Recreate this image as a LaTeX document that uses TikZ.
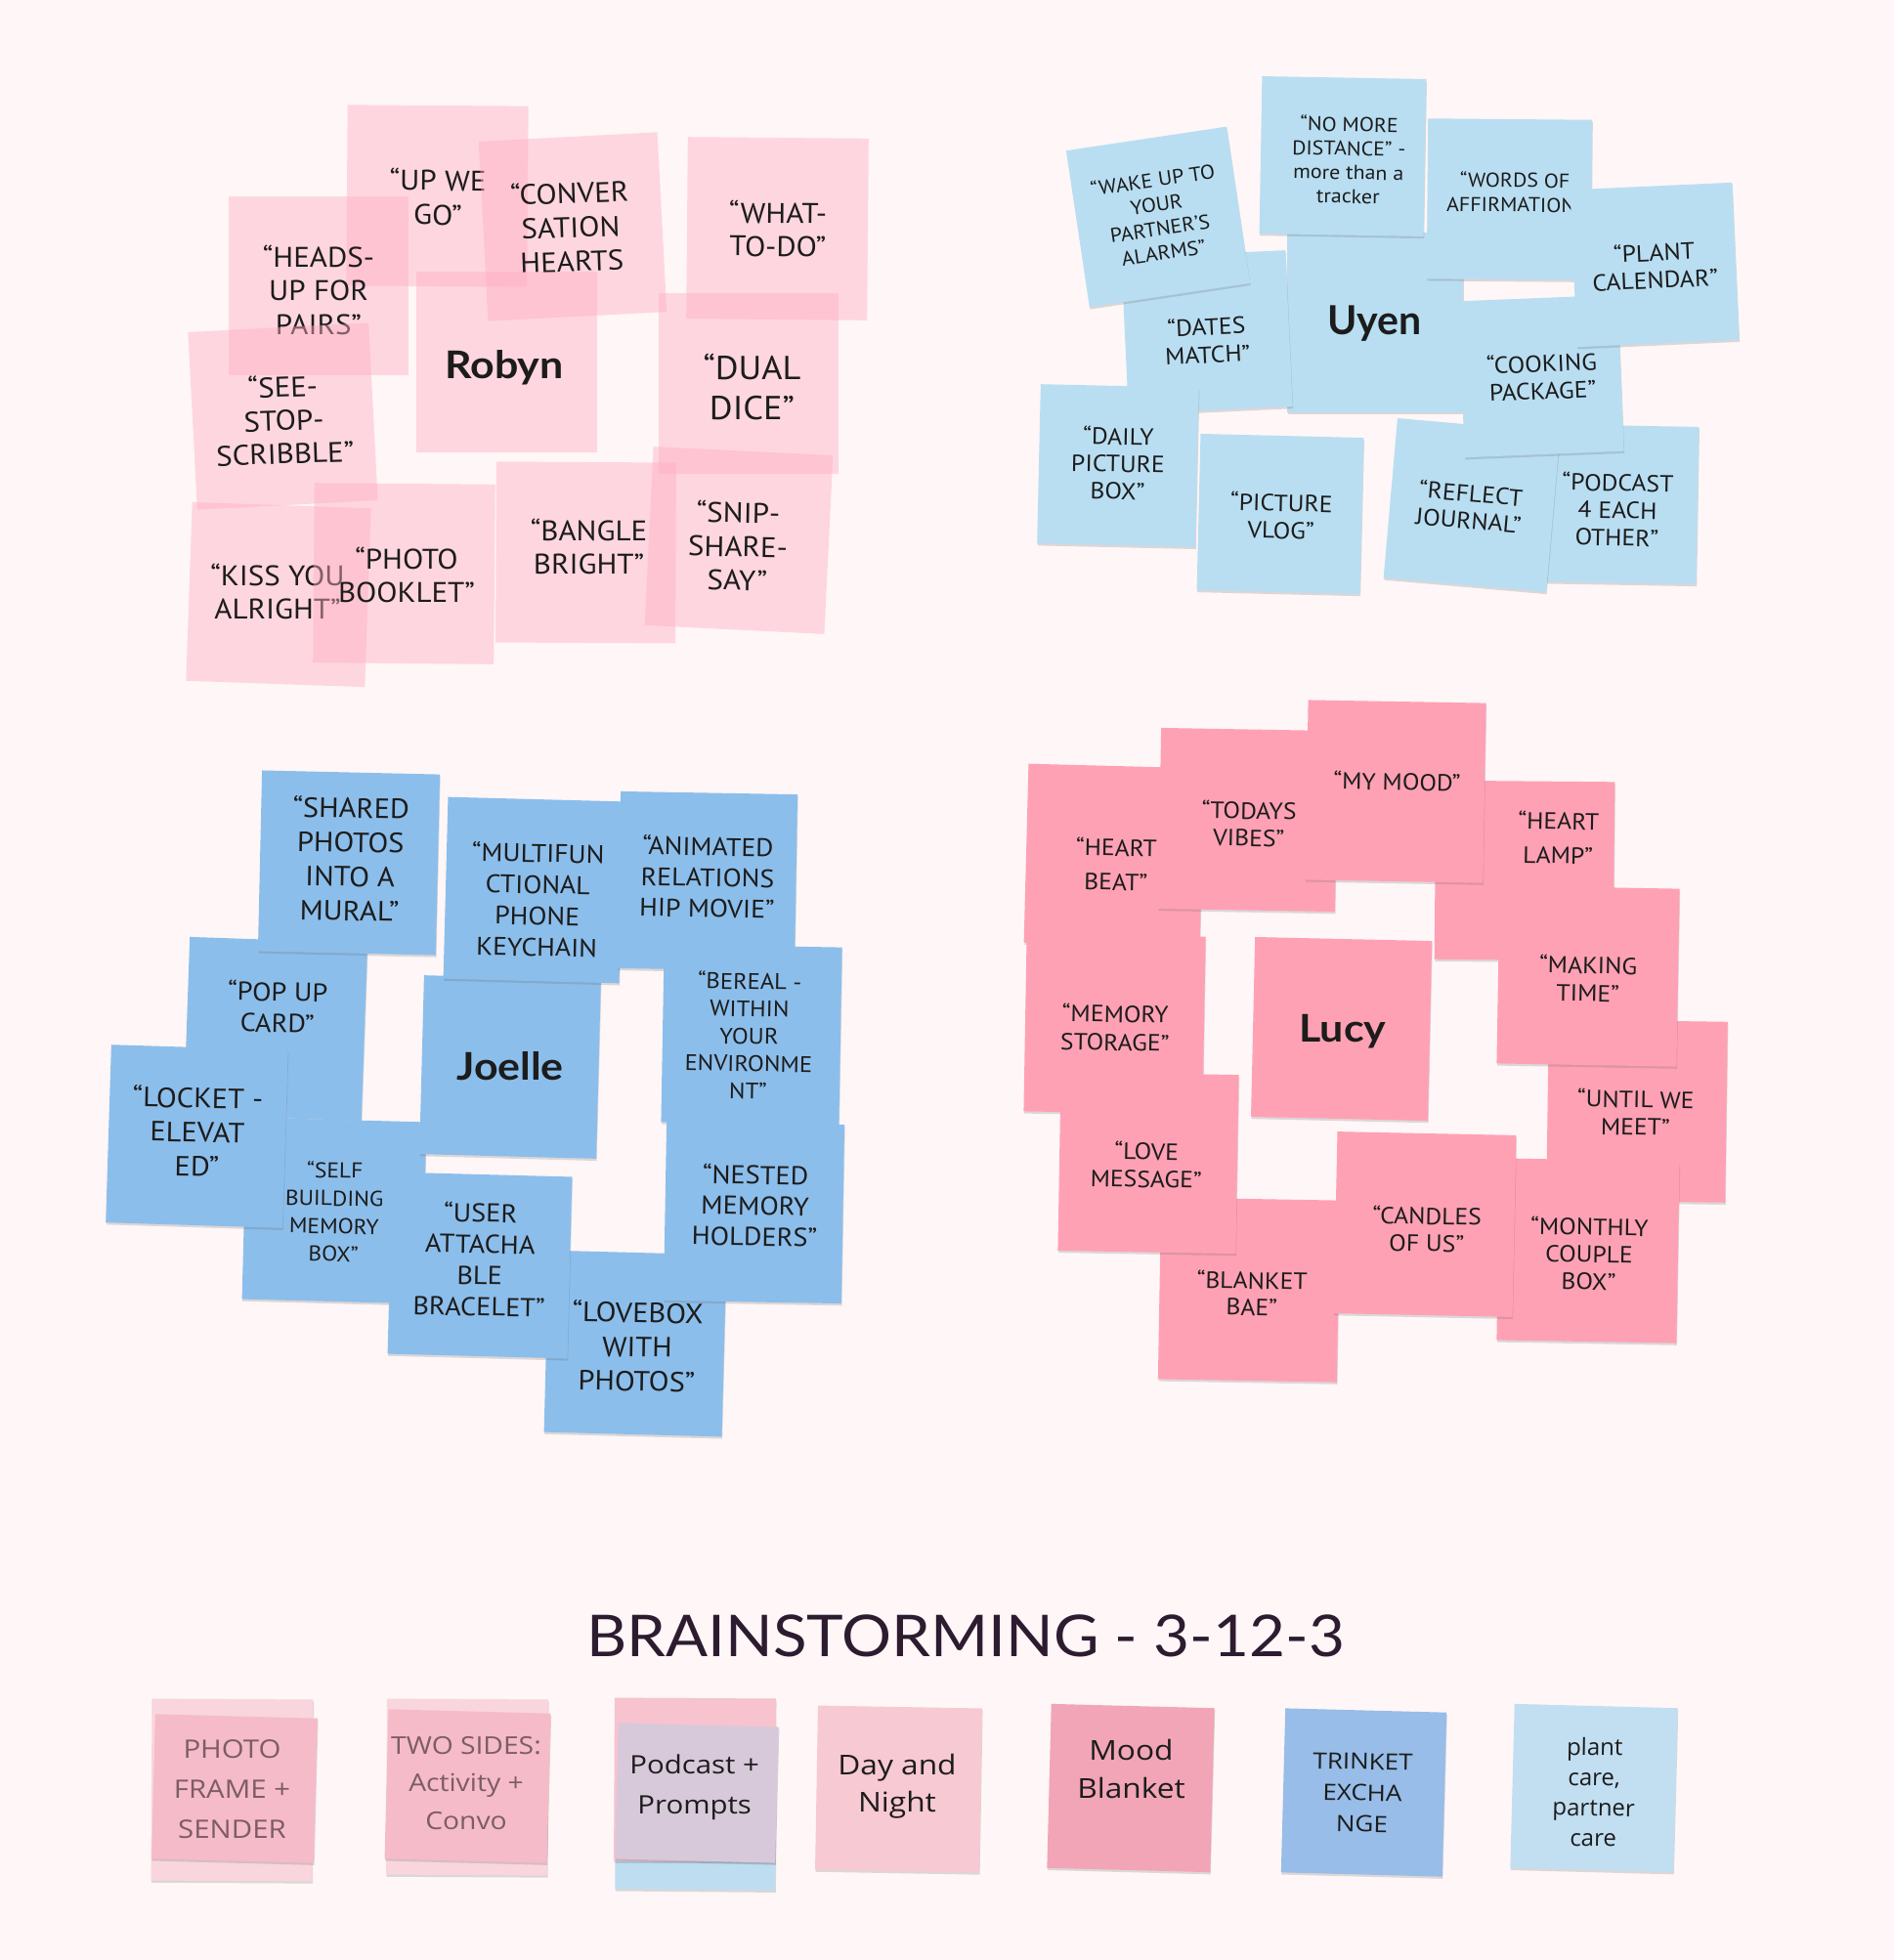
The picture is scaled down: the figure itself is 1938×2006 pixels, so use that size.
\documentclass[tikz,border=0pt]{standalone}
\usepackage{fontspec}
\usetikzlibrary{shadows}
\newfontfamily\notefont[FakeStretch=1.07]{PT Sans}
\newfontfamily\namefont[FakeStretch=1.1]{Lato}
\newfontfamily\uyenfont{Lato}
\newfontfamily\titlefont[FakeStretch=1.08]{Lato}
\newfontfamily\botfont[FakeStretch=1.13]{Open Sans}
\newfontfamily\botfontn{Open Sans}
\definecolor{bgc}{HTML}{FEF6F7}
\definecolor{ink}{HTML}{1C1C1C}
\definecolor{rpink}{HTML}{FFB0C3}
\definecolor{ublue}{HTML}{B9DEF2}
\definecolor{jblue}{HTML}{8CBEEB}
\definecolor{lpink}{HTML}{FFA1B4}
\definecolor{bpkone}{HTML}{F9D5DD}
\definecolor{bpktwo}{HTML}{F5BBC8}
\definecolor{bpkthree}{HTML}{F6C3CE}
\definecolor{bpurp}{HTML}{D8C9DA}
\definecolor{bblue}{HTML}{BEDDF1}
\definecolor{bpkfour}{HTML}{F7C9D3}
\definecolor{bmood}{HTML}{F2A5B6}
\definecolor{btrink}{HTML}{97BDE8}
\definecolor{bplant}{HTML}{C2DFF2}
\definecolor{graytx}{HTML}{7D5C66}
\definecolor{titlec}{HTML}{2D1B30}
\newcommand\snote[7]{\node[#7,minimum width=#4pt,minimum height=#5pt,rotate=#6] (#1) at (#2,#3) {};}
\newcommand\stxt[6]{\node[lbl,#5,rotate=#4] (#1) at (#2,#3) {#6};}
\begin{document}
\begin{tikzpicture}[x=1pt,y=-1pt,
  lbl/.style={align=center,inner sep=0pt,text=ink},
  fs/.style 2 args={font=\notefont\fontsize{#1}{#2}\selectfont},
  bfs/.style 2 args={font=\botfont\fontsize{#1}{#2}\selectfont},
  nm/.style={font=\namefont\bfseries\fontsize{39}{44}\selectfont,inner sep=0pt,text=ink,anchor=base},
  nbase/.style={inner sep=0pt,outer sep=0pt,draw=none},
  nshadow/.style={drop shadow={shadow xshift=0.6pt,shadow yshift=-2.2pt,opacity=0.22,fill=black!60}},
  rnote/.style={nbase,fill=rpink,fill opacity=0.45},
  unote/.style={nbase,fill=ublue,nshadow},
  jnote/.style={nbase,fill=jblue,nshadow},
  lnote/.style={nbase,fill=lpink,nshadow},
  bnote/.style={nbase,nshadow}]
\useasboundingbox (0,0) rectangle (1938,2006);
\fill[bgc] (0,0) rectangle (1938,2006);

% ---------------- Robyn ----------------
\snote{r1}{447.5}{200.5}{185}{185}{-0.4}{rnote}
\stxt{r1t}{448}{201.5}{-0.4}{fs={29}{35}}{“UP WE\\GO”}
\snote{r2}{326}{292.5}{184}{183}{0}{rnote}
\stxt{r2t}{326}{296.5}{0}{fs={29}{34.5}}{“HEADS-\\UP FOR\\PAIRS”}
\snote{r3}{586}{232}{183}{184}{3}{rnote}
\stxt{r3t}{584}{232}{2}{fs={29}{35}}{“CONVER\\SATION\\HEARTS}
\snote{r4}{795.5}{234}{185}{186}{-0.5}{rnote}
\stxt{r4t}{796}{234.3}{-0.5}{fs={29}{34}}{“WHAT-\\TO-DO”}
\snote{r5}{518.5}{370.5}{185}{185}{0}{rnote}
\node[nm] (r5t) at (516,387.5) {Robyn};
\snote{r6}{766}{392.5}{184}{185}{0}{rnote}
\stxt{r6t}{769.5}{396}{0}{fs={34}{41}}{“DUAL\\DICE”}
\snote{r7}{289.5}{426}{185}{182}{3}{rnote}
\stxt{r7t}{290.5}{429.5}{2}{fs={29}{34}}{“SEE-\\STOP-\\SCRIBBLE”}
\snote{r8}{285}{608.5}{183}{183}{-2}{rnote}
\stxt{r8t}{284}{605}{0}{fs={29}{34}}{“KISS YOU\\ALRIGHT”}
\snote{r9}{413.5}{587}{185}{184}{-0.5}{rnote}
\stxt{r9t}{416}{588}{0}{fs={29}{34}}{“PHOTO\\BOOKLET”}
\snote{r10}{599.5}{565.5}{184}{185}{-0.3}{rnote}
\stxt{r10t}{602.6}{559}{0}{fs={29}{34}}{“BANGLE\\BRIGHT”}
\snote{r11}{756}{553}{184}{183}{-2.8}{rnote}
\stxt{r11t}{755}{558.5}{-1}{fs={29}{34.5}}{“SNIP-\\SHARE-\\SAY”}

% ---------------- Uyen ----------------
\snote{u4}{1407}{330}{180}{184}{0}{unote}
\node[nm,font=\uyenfont\bfseries\fontsize{41}{44}\selectfont] (u4t) at (1406.6,342) {Uyen};
\snote{u3}{1235}{340}{168}{160}{2.7}{unote}
\stxt{u3t}{1235}{348.3}{2.7}{fs={24}{28.6}}{“DATES\\MATCH”}
\snote{u1}{1185}{222}{166}{162}{8.5}{unote}
\stxt{u1t}{1185}{221}{8.5}{fs={20.5}{25}}{“WAKE UP TO\\YOUR\\PARTNER’S\\ALARMS”}
\snote{u2}{1374}{160}{168}{161}{-1}{unote}
\stxt{u2t}{1380}{163.5}{-1}{fs={20.5}{24.5}}{“NO MORE\\DISTANCE” -\\more than a\\tracker}
\snote{u5}{1544.5}{204}{168}{164}{-0.5}{unote}
\stxt{u5t}{1550}{196.5}{-0.5}{fs={20.5}{25}}{“WORDS OF\\AFFIRMATION”}
\snote{u8}{1144}{476.5}{162}{163}{-1.3}{unote}
\stxt{u8t}{1144}{474}{-1}{fs={24}{28}}{“DAILY\\PICTURE\\BOX”}
\snote{u9}{1310}{526}{167}{160}{-1.4}{unote}
\stxt{u9t}{1311}{528}{-1.4}{fs={24}{28}}{“PICTURE\\VLOG”}
\snote{u11}{1655}{516}{164}{161}{-1}{unote}
\stxt{u11t}{1655}{521.5}{-1}{fs={24}{28}}{“PODCAST\\4 EACH\\OTHER”}
\snote{u10}{1506}{517}{167}{164}{-5}{unote}
\stxt{u10t}{1504}{518.3}{-5}{fs={24}{27.5}}{“REFLECT\\JOURNAL”}
\snote{u7}{1577}{385}{163}{160}{2.3}{unote}
\stxt{u7t}{1578}{385.5}{2.3}{fs={24}{28}}{“COOKING\\PACKAGE”}
\snote{u6}{1693}{271}{166}{161}{2.6}{unote}
\stxt{u6t}{1693}{272}{2.6}{fs={24}{28}}{“PLANT\\CALENDAR”}

% ---------------- Joelle ----------------
\snote{j4}{282}{1053}{182}{182}{-2}{jnote}
\stxt{j4t}{284}{1030.5}{-1}{fs={26.5}{32}}{“POP UP\\CARD”}
\snote{j1}{357}{883}{182}{185}{-1.3}{jnote}
\stxt{j1t}{358.5}{878.7}{-1}{fs={28.5}{35}}{“SHARED\\PHOTOS\\INTO A\\MURAL”}
\snote{j8}{342}{1239}{184}{186}{-1.5}{jnote}
\stxt{j8t}{342}{1240}{-1}{fs={22}{28.5}}{“SELF\\BUILDING\\MEMORY\\BOX”}
\snote{j5}{201.5}{1163}{181}{182}{-1.8}{jnote}
\stxt{j5t}{202}{1157.8}{-1}{fs={28.5}{35}}{“LOCKET -\\ELEVAT\\ED”}
\snote{j6}{522}{1092}{181}{183}{-1.5}{jnote}
\node[nm] (j6t) at (522,1105) {Joelle};
\snote{j2}{546}{911}{180}{186}{-1.5}{jnote}
\stxt{j2t}{550}{920.6}{-1}{fs={26}{32}}{“MULTIFUN\\CTIONAL\\PHONE\\KEYCHAIN}
\snote{j3}{724}{902}{181}{181}{-1}{jnote}
\stxt{j3t}{724}{897.3}{-1}{fs={26}{31.5}}{“ANIMATED\\RELATIONS\\HIP MOVIE”}
\snote{j7}{769}{1059}{182}{182}{-1}{jnote}
\stxt{j7t}{766.4}{1059.7}{-1}{fs={23}{28}}{“BEREAL -\\WITHIN\\YOUR\\ENVIRONME\\NT”}
\snote{j11}{650}{1375}{182}{186}{-1.5}{jnote}
\stxt{j11t}{652}{1377.7}{-1}{fs={28.5}{35}}{“LOVEBOX\\WITH\\PHOTOS”}
\snote{j10}{771.5}{1241}{182}{183}{-1}{jnote}
\stxt{j10t}{772.6}{1233.3}{-1}{fs={26.5}{31.5}}{“NESTED\\MEMORY\\HOLDERS”}
\snote{j9}{491}{1295}{184}{186}{-1.5}{jnote}
\stxt{j9t}{491}{1288.5}{-1}{fs={26.5}{32}}{“USER\\ATTACHA\\BLE\\BRACELET”}

% ---------------- Lucy ----------------
\snote{l1}{1140}{875.5}{180}{183}{-1.5}{lnote}
\stxt{l1t}{1142}{884.5}{-1}{fs={24}{35}}{“HEART\\BEAT”}
\snote{l2}{1277}{839}{181}{185}{-1}{lnote}
\stxt{l2t}{1278}{843}{-1}{fs={24}{28}}{“TODAYS\\VIBES”}
\snote{l4}{1560}{891}{183}{183}{-0.5}{lnote}
\stxt{l4t}{1594.5}{857}{-1}{fs={24}{35}}{“HEART\\LAMP”}
\snote{l3}{1428}{810}{182}{184}{-1}{lnote}
\stxt{l3t}{1429.5}{799.5}{-1}{fs={24}{28}}{“MY MOOD”}
\snote{l6}{1675}{1137}{183}{185}{-0.8}{lnote}
\stxt{l6t}{1673.6}{1138.3}{-1}{fs={24}{28}}{“UNTIL WE\\MEET”}
\snote{l5}{1625}{999}{184}{182}{-1}{lnote}
\stxt{l5t}{1625}{1001.3}{-1}{fs={24}{28.5}}{“MAKING\\TIME”}
\snote{l7}{1140.5}{1048}{183}{182}{-1}{lnote}
\stxt{l7t}{1141}{1051.5}{-1}{fs={24}{29}}{“MEMORY\\STORAGE”}
\snote{l8}{1372.6}{1053}{181}{184}{-1.3}{lnote}
\node[nm] (l8t) at (1374,1066) {Lucy};
\snote{l10}{1278}{1320}{183}{186}{-1}{lnote}
\stxt{l10t}{1281}{1323.5}{-1}{fs={24}{27}}{“BLANKET\\BAE”}
\snote{l9}{1175}{1190}{182}{183}{-1}{lnote}
\stxt{l9t}{1173}{1192}{-1}{fs={24}{28}}{“LOVE\\MESSAGE”}
\snote{l12}{1625}{1280}{184}{186}{-1}{lnote}
\stxt{l12t}{1626}{1283}{-1}{fs={24}{28}}{“MONTHLY\\COUPLE\\BOX”}
\snote{l11}{1458}{1253}{183}{186}{-1.2}{lnote}
\stxt{l11t}{1460}{1257.8}{-1}{fs={24}{27.6}}{“CANDLES\\OF US”}

% ---------------- Title ----------------
\node[font=\titlefont\fontsize{59}{60}\selectfont,text=titlec,inner sep=0pt,anchor=base] (title) at (988,1695) {BRAINSTORMING - 3-12-3};

% ---------------- Bottom row ----------------
\snote{b1a}{237.5}{1832}{165}{186}{-0.3}{bnote,fill=bpkone}
\snote{b1b}{240}{1830.5}{166}{148}{-1.5}{bnote,fill=bpktwo}
\stxt{b1t}{237.5}{1831}{0}{bfs={26}{41},text=graytx}{PHOTO\\FRAME +\\SENDER}
\snote{b2a}{478}{1829}{165}{180}{-0.3}{bnote,fill=bpkone}
\snote{b2b}{478.5}{1828}{166}{153}{-1.5}{bnote,fill=bpktwo}
\stxt{b2t}{477}{1825}{0}{bfs={25}{38.6},text=graytx}{TWO SIDES:\\Activity +\\Convo}
\snote{b3c}{712}{1850}{164}{168}{-0.5}{bnote,fill=bblue}
\snote{b3a}{711}{1821.5}{165}{167}{-0.3}{bnote,fill=bpkthree}
\snote{b3b}{713}{1835}{164}{139}{-1.5}{bnote,fill=bpurp}
\stxt{b3t}{710.7}{1829}{0}{bfs={26}{41}}{Podcast +\\Prompts}
\snote{b4}{919.5}{1831}{168}{168}{-1}{bnote,fill=bpkfour}
\stxt{b4t}{918}{1828}{0}{bfs={28}{38}}{Day and\\Night}
\snote{b5}{1157}{1830}{167}{168}{-1.5}{bnote,fill=bmood}
\stxt{b5t}{1157.5}{1810}{0}{bfs={28}{39}}{Mood\\Blanket}
\snote{b6}{1395.5}{1834.5}{165}{168}{-1.5}{bnote,fill=btrink}
\stxt{b6t}{1394}{1835}{-1}{bfs={23}{32}}{TRINKET\\EXCHA\\NGE}
\snote{b7}{1631}{1830}{167}{168}{-1.5}{bnote,fill=bplant}
\stxt{b7t}{1631}{1834}{-1}{font=\botfontn\fontsize{24}{31}\selectfont}{plant\\care,\\partner\\care}
\end{tikzpicture}
\end{document}
